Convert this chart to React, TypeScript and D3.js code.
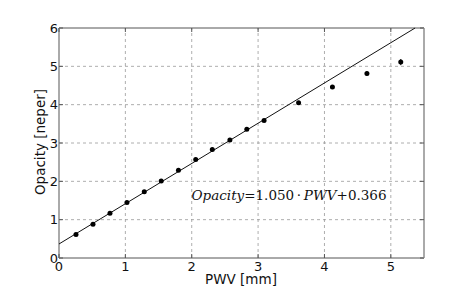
import React from 'react';
import * as d3 from 'd3';

const pwv = [0.256, 0.512, 0.768, 1.024, 1.285, 1.54, 1.8, 2.06, 2.31, 2.575, 2.83, 3.09, 3.61, 4.12, 4.64, 5.15];
const opacity = [0.61, 0.88, 1.17, 1.45, 1.73, 2.01, 2.29, 2.57, 2.83, 3.08, 3.36, 3.59, 4.05, 4.46, 4.81, 5.11];
const errors = [0.02, 0.02, 0.02, 0.02, 0.02, 0.02, 0.02, 0.02, 0.02, 0.03, 0.03, 0.03, 0.04, 0.05, 0.06, 0.08];
const xTicks = [0, 1, 2, 3, 4, 5];
const yTicks = [0, 1, 2, 3, 4, 5, 6];
const slope = 1.05;
const intercept = 0.366;

const App = () => {
    const width = 471;
    const height = 287;
    const margin = {top: 28, right: 47, bottom: 29, left: 59};

    const x = d3.scaleLinear().domain([0, 5.5]).range([margin.left, width - margin.right]);
    const y = d3.scaleLinear().domain([0, 6]).range([height - margin.bottom, margin.top]);

    // fit line, clipped to the top of the axes
    const xEnd = (6 - intercept) / slope;
    const fitLine = d3.line<number>()
        .x((d) => x(d))
        .y((d) => y(slope * d + intercept))([0, xEnd]);

    const font = 'DejaVu Sans, sans-serif';

    return (
        <svg width={width} height={height} style={{position: 'absolute', left: 0, top: 0}}>
            <rect width={width} height={height} fill="#fff" />
            {/* grid */}
            {xTicks.slice(1).map((t) => (
                <line key={'gx' + t} x1={x(t)} x2={x(t)} y1={y(0)} y2={y(6)} stroke="#999" strokeDasharray="3,3" strokeWidth={0.8} />
            ))}
            {yTicks.slice(1, -1).map((t) => (
                <line key={'gy' + t} x1={x(0)} x2={x(5.5)} y1={y(t)} y2={y(t)} stroke="#999" strokeDasharray="3,3" strokeWidth={0.8} />
            ))}
            {/* frame */}
            <line x1={x(0)} x2={x(5.5)} y1={y(6)} y2={y(6)} stroke="#555" strokeWidth={1} />
            <line x1={x(0)} x2={x(5.5)} y1={y(0)} y2={y(0)} stroke="#555" strokeWidth={1} />
            <line x1={x(0)} x2={x(0)} y1={y(0)} y2={y(6)} stroke="#aaa" strokeWidth={2} />
            <line x1={x(5.5)} x2={x(5.5)} y1={y(0)} y2={y(6)} stroke="#aaa" strokeWidth={2} />
            {/* ticks */}
            {yTicks.map((t) => (
                <g key={'ty' + t}>
                    <line x1={x(0)} x2={x(0) + 4} y1={y(t)} y2={y(t)} stroke="#555" />
                    <line x1={x(5.5)} x2={x(5.5) - 4} y1={y(t)} y2={y(t)} stroke="#555" />
                    <text x={x(0) - 1} y={y(t)} dy="0.35em" textAnchor="end" fontFamily={font} fontSize={13} fill="#111">{t}</text>
                </g>
            ))}
            {xTicks.map((t) => (
                <g key={'tx' + t}>
                    <line x1={x(t)} x2={x(t)} y1={y(0)} y2={y(0) - 4} stroke="#555" />
                    <line x1={x(t)} x2={x(t)} y1={y(6)} y2={y(6) + 4} stroke="#555" />
                    <text x={x(t)} y={y(0) + 12.5} textAnchor="middle" fontFamily={font} fontSize={13} fill="#111">{t}</text>
                </g>
            ))}
            {/* fit */}
            <path d={fitLine || ''} fill="none" stroke="#111" strokeWidth={1} />
            {/* data */}
            {pwv.map((v, i) => (
                <g key={'p' + i}>
                    <line x1={x(v)} x2={x(v)} y1={y(opacity[i] - errors[i])} y2={y(opacity[i] + errors[i])} stroke="#000" strokeWidth={1} />
                    <circle cx={x(v)} cy={y(opacity[i])} r={2.5} fill="#000" />
                </g>
            ))}
            {/* equation */}
            <text x={191.5} y={200} fontFamily="DejaVu Serif, serif" fontSize={13.5} fill="#111">
                <tspan fontStyle="italic">Opacity</tspan>
                <tspan>{'=1.050\u2009·\u2009'}</tspan>
                <tspan fontStyle="italic">PWV</tspan>
                <tspan>{'+0.366'}</tspan>
            </text>
            {/* labels */}
            <text x={241} y={284} textAnchor="middle" fontFamily={font} fontSize={13.5} fill="#111">PWV [mm]</text>
            <text transform={`translate(44.5,${y(3) - 1}) rotate(-90)`} textAnchor="middle" fontFamily={font} fontSize={13.5} fill="#111">Opacity [neper]</text>
        </svg>
    );
};

export default App;
